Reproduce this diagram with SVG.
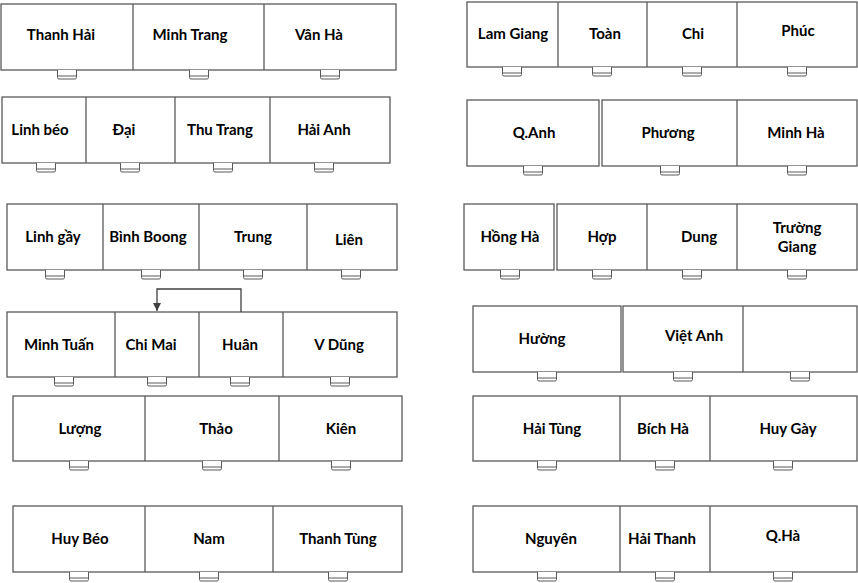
<svg xmlns="http://www.w3.org/2000/svg" width="858" height="583" viewBox="0 0 858 583">
<defs>
<style>
.b{fill:#fff;stroke:#5a5a5a;stroke-width:1.3}
.d{stroke:#5a5a5a;stroke-width:1.3}
.c{fill:#fff;stroke:#5a5a5a;stroke-width:1}
.t{font-family:Lato,"Open Sans","Liberation Sans",sans-serif;font-weight:bold;font-size:15px;fill:#000;text-anchor:middle}
.k{stroke:#404040;stroke-width:1.3;fill:none}
</style>
<g id="chair"><path class="c" d="M-9.5,0V7.5Q-9.5,9 -8,9H8Q9.5,9 9.5,7.5V0"/><line class="c" x1="-9.5" y1="6" x2="9.5" y2="6"/></g>
<marker id="ah" markerWidth="8" markerHeight="8" refX="8" refY="4" orient="auto" markerUnits="userSpaceOnUse" viewBox="0 0 8 8"><path d="M0,0L8,4L0,8Z" fill="#404040"/></marker>
</defs>
<rect width="858" height="583" fill="#fff"/>

<g id="row1L">
<rect class="b" x="1" y="4" width="395" height="66"/>
<line class="d" x1="133" y1="4" x2="133" y2="70"/><line class="d" x1="264" y1="4" x2="264" y2="70"/>
<use href="#chair" x="67" y="70"/><use href="#chair" x="199" y="70"/><use href="#chair" x="330" y="70"/>
<text class="t" x="61" y="40">Thanh Hải</text><text class="t" x="190" y="40">Minh Trang</text><text class="t" x="319" y="40">Vân Hà</text>
</g>

<g id="row2L">
<rect class="b" x="2" y="97" width="388" height="66"/>
<line class="d" x1="86" y1="97" x2="86" y2="163"/><line class="d" x1="175" y1="97" x2="175" y2="163"/><line class="d" x1="270" y1="97" x2="270" y2="163"/>
<use href="#chair" x="46" y="163"/><use href="#chair" x="130" y="163"/><use href="#chair" x="223" y="163"/><use href="#chair" x="324" y="163"/>
<text class="t" x="40" y="135">Linh béo</text><text class="t" x="124" y="135">Đại</text><text class="t" x="220" y="135">Thu Trang</text><text class="t" x="324" y="135">Hải Anh</text>
</g>

<g id="row3L">
<rect class="b" x="7" y="204" width="390" height="66"/>
<line class="d" x1="103" y1="204" x2="103" y2="270"/><line class="d" x1="199" y1="204" x2="199" y2="270"/><line class="d" x1="307" y1="204" x2="307" y2="270"/>
<use href="#chair" x="55" y="270"/><use href="#chair" x="151" y="270"/><use href="#chair" x="253" y="270"/><use href="#chair" x="351" y="270"/>
<text class="t" x="53" y="242">Linh gầy</text><text class="t" x="148" y="242">Bình Boong</text><text class="t" x="253" y="242">Trung</text><text class="t" x="349" y="245">Liên</text>
</g>

<g id="row4L">
<rect class="b" x="7" y="312" width="390" height="65"/>
<line class="d" x1="115" y1="312" x2="115" y2="377"/><line class="d" x1="199" y1="312" x2="199" y2="377"/><line class="d" x1="283" y1="312" x2="283" y2="377"/>
<use href="#chair" x="64" y="377"/><use href="#chair" x="157" y="377"/><use href="#chair" x="240" y="377"/><use href="#chair" x="340" y="377"/>
<text class="t" x="59" y="350">Minh Tuấn</text><text class="t" x="151" y="350">Chi Mai</text><text class="t" x="240" y="350">Huân</text><text class="t" x="339" y="350">V Dũng</text>
</g>

<g id="row5L">
<rect class="b" x="13" y="396" width="389" height="65"/>
<line class="d" x1="145" y1="396" x2="145" y2="461"/><line class="d" x1="279" y1="396" x2="279" y2="461"/>
<use href="#chair" x="79" y="461"/><use href="#chair" x="212" y="461"/><use href="#chair" x="341" y="461"/>
<text class="t" x="80" y="434">Lượng</text><text class="t" x="216" y="434">Thảo</text><text class="t" x="341" y="434">Kiên</text>
</g>

<g id="row6L">
<rect class="b" x="13" y="506" width="389" height="66"/>
<line class="d" x1="145" y1="506" x2="145" y2="572"/><line class="d" x1="273" y1="506" x2="273" y2="572"/>
<use href="#chair" x="79" y="572"/><use href="#chair" x="209" y="572"/><use href="#chair" x="338" y="572"/>
<text class="t" x="80" y="544">Huy Béo</text><text class="t" x="209" y="544">Nam</text><text class="t" x="338" y="544">Thanh Tùng</text>
</g>

<g id="row1R">
<rect class="b" x="467" y="2" width="390" height="65"/>
<line class="d" x1="558" y1="2" x2="558" y2="67"/><line class="d" x1="647" y1="2" x2="647" y2="67"/><line class="d" x1="737" y1="2" x2="737" y2="67"/>
<use href="#chair" x="512" y="67"/><use href="#chair" x="602" y="67"/><use href="#chair" x="692" y="67"/><use href="#chair" x="797" y="67"/>
<text class="t" x="513" y="39">Lam Giang</text><text class="t" x="605" y="39">Toàn</text><text class="t" x="693" y="39">Chi</text><text class="t" x="798" y="36">Phúc</text>
</g>

<g id="row2R">
<rect class="b" x="467" y="100" width="132" height="66"/>
<rect class="b" x="602" y="100" width="255" height="66"/>
<line class="d" x1="737" y1="100" x2="737" y2="166"/>
<use href="#chair" x="533" y="166"/><use href="#chair" x="670" y="166"/><use href="#chair" x="797" y="166"/>
<text class="t" x="534" y="138">Q.Anh</text><text class="t" x="668" y="138">Phương</text><text class="t" x="796" y="138">Minh Hà</text>
</g>

<g id="row3R">
<rect class="b" x="464" y="204" width="90" height="66"/>
<rect class="b" x="557" y="204" width="300" height="66"/>
<line class="d" x1="647" y1="204" x2="647" y2="270"/><line class="d" x1="737" y1="204" x2="737" y2="270"/>
<use href="#chair" x="510" y="270"/><use href="#chair" x="602" y="270"/><use href="#chair" x="692" y="270"/><use href="#chair" x="797" y="270"/>
<text class="t" x="510" y="242">Hồng Hà</text><text class="t" x="602" y="242">Hợp</text><text class="t" x="699" y="242">Dung</text><text class="t" x="797" y="233">Trường</text><text class="t" x="797" y="252">Giang</text>
</g>

<g id="row4R">
<rect class="b" x="473" y="306" width="148" height="66"/>
<rect class="b" x="623" y="306" width="234" height="66"/>
<line class="d" x1="743" y1="306" x2="743" y2="372"/>
<use href="#chair" x="547" y="372"/><use href="#chair" x="683" y="372"/><use href="#chair" x="800" y="372"/>
<text class="t" x="542" y="344">Hường</text><text class="t" x="694" y="341">Việt Anh</text>
</g>

<g id="row5R">
<rect class="b" x="473" y="396" width="384" height="65"/>
<line class="d" x1="620" y1="396" x2="620" y2="461"/><line class="d" x1="710" y1="396" x2="710" y2="461"/>
<use href="#chair" x="547" y="461"/><use href="#chair" x="665" y="461"/><use href="#chair" x="783" y="461"/>
<text class="t" x="552" y="434">Hải Tùng</text><text class="t" x="663" y="434">Bích Hà</text><text class="t" x="788" y="434">Huy Gày</text>
</g>

<g id="row6R">
<rect class="b" x="473" y="506" width="384" height="66"/>
<line class="d" x1="620" y1="506" x2="620" y2="572"/><line class="d" x1="710" y1="506" x2="710" y2="572"/>
<use href="#chair" x="547" y="572"/><use href="#chair" x="665" y="572"/><use href="#chair" x="783" y="572"/>
<text class="t" x="551" y="544">Nguyên</text><text class="t" x="662" y="544">Hải Thanh</text><text class="t" x="783" y="541">Q.Hà</text>
</g>

<g id="connectors">
<path class="k" d="M241,312V289H157V311" marker-end="url(#ah)"/>
</g>
</svg>
